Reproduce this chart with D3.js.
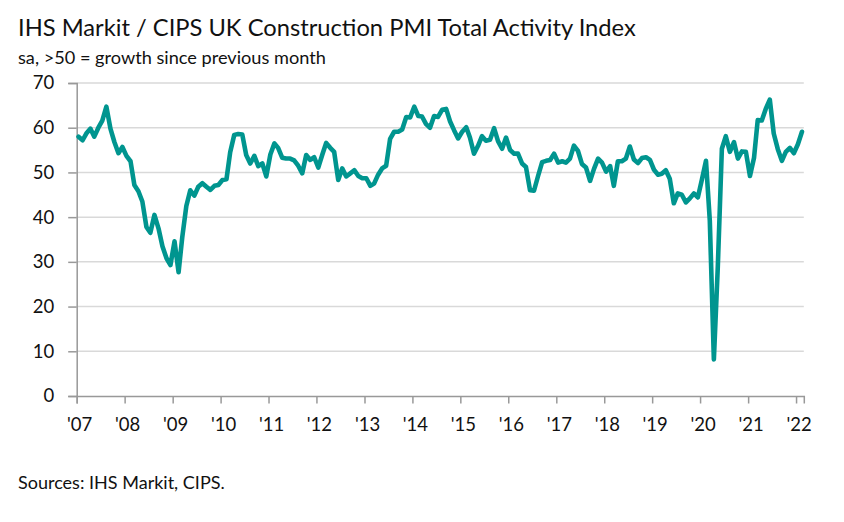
<!DOCTYPE html>
<html>
<head>
<meta charset="utf-8">
<script src="https://cdn.jsdelivr.net/npm/d3@7"></script>
<style>
  html, body { margin: 0; padding: 0; background: #fff; }
  svg { display: block; }
</style>
</head>
<body>
<svg id="chart" width="844" height="522"></svg>
<script>
// ---------- data ----------
const titleText = "IHS Markit / CIPS UK Construction PMI Total Activity Index";
const subtitleText = "sa, >50 = growth since previous month";
const sourceText = "Sources: IHS Markit, CIPS.";

const startYear = 2007;           // first observation: Jan 2007 (monthly)
const pmiValues = [
  // 2007
  58.0, 57.2, 58.7, 59.8, 58.0, 60.0, 61.6, 64.7, 59.8, 56.8, 54.3, 55.7,
  // 2008
  53.7, 52.5, 47.2, 45.8, 43.5, 37.8, 36.5, 40.5, 37.5, 33.5, 30.8, 29.3,
  // 2009
  34.6, 27.7, 35.5, 42.5, 46.0, 44.8, 46.8, 47.6, 46.8, 46.1, 47.0, 47.2,
  // 2010
  48.3, 48.5, 54.5, 58.4, 58.6, 58.5, 53.9, 52.0, 53.7, 51.4, 52.0, 49.1,
  // 2011
  54.0, 56.5, 55.5, 53.3, 53.1, 53.1, 52.7, 51.5, 49.8, 53.9, 52.8, 53.4,
  // 2012
  51.1, 54.0, 56.6, 55.5, 54.6, 48.3, 50.9, 49.1, 49.8, 50.5, 49.2, 48.7,
  // 2013
  48.7, 47.0, 47.5, 49.5, 50.9, 51.5, 57.5, 59.1, 59.1, 59.6, 62.4, 62.3,
  // 2014
  64.7, 62.6, 62.5, 60.8, 60.0, 62.6, 62.4, 64.0, 64.2, 61.4, 59.4, 57.6,
  // 2015
  59.1, 60.1, 57.8, 54.2, 55.9, 58.1, 57.1, 57.3, 59.9, 57.0, 55.3, 57.8,
  // 2016
  55.0, 54.2, 54.2, 52.0, 51.2, 46.0, 45.9, 49.2, 52.3, 52.6, 52.8, 54.2,
  // 2017
  52.2, 52.5, 52.2, 53.1, 56.0, 54.8, 51.9, 51.1, 48.1, 50.8, 53.1, 52.2,
  // 2018
  50.2, 51.4, 47.0, 52.5, 52.5, 53.1, 55.8, 52.9, 52.1, 53.2, 53.4, 52.8,
  // 2019
  50.6, 49.5, 49.7, 50.5, 48.6, 43.1, 45.3, 45.0, 43.3, 44.2, 45.3, 44.4,
  // 2020
  48.4, 52.6, 39.3, 8.2, 28.9, 55.3, 58.1, 54.6, 56.8, 53.1, 54.7, 54.6,
  // 2021
  49.2, 53.3, 61.7, 61.6, 64.2, 66.3, 58.7, 55.2, 52.6, 54.6, 55.5, 54.3,
  // 2022
  56.3, 59.1
];

const xTickYears  = [2007, 2008, 2009, 2010, 2011, 2012, 2013, 2014, 2015, 2016, 2017, 2018, 2019, 2020, 2021, 2022];
const xTickLabels = ["'07", "'08", "'09", "'10", "'11", "'12", "'13", "'14", "'15", "'16", "'17", "'18", "'19", "'20", "'21", "'22"];
const yTicks = [0, 10, 20, 30, 40, 50, 60, 70];

// ---------- layout ----------
const FONT = "Lato, 'Open Sans', sans-serif";
const plot = { left: 76.7, right: 803.8, top: 83, bottom: 396 };
const lineColor = "#00958f";
const gridColor = "#d9d9d9";
const axisColor = "#999999";

const svg = d3.select("#chart");

const data = pmiValues.map((v, i) => ({ date: new Date(startYear, i, 15), value: v }));

const x = d3.scaleTime()
  .domain([new Date(startYear, 0, 1), new Date(2022, 2, 1)])
  .range([plot.left, plot.right]);

const y = d3.scaleLinear()
  .domain([0, 70])
  .range([plot.bottom, plot.top]);

// gridlines
svg.append("g")
  .selectAll("line")
  .data(yTicks.filter(t => t > 0))
  .join("line")
  .attr("x1", plot.left).attr("x2", plot.right)
  .attr("y1", d => y(d)).attr("y2", d => y(d))
  .attr("stroke", gridColor).attr("stroke-width", 1.5);

// y axis
const yAxis = svg.append("g")
  .attr("transform", `translate(${plot.left},0)`)
  .call(d3.axisLeft(y).tickValues(yTicks).tickSize(8.5).tickPadding(14).tickFormat(d3.format("d")));
yAxis.select(".domain").attr("stroke", axisColor).attr("stroke-width", 1.5);
yAxis.selectAll(".tick line").attr("stroke", axisColor).attr("stroke-width", 1.5);
yAxis.selectAll(".tick text")
  .attr("font-family", FONT).attr("font-size", 18.5).attr("fill", "#111");

// x axis
const xAxis = svg.append("g")
  .attr("transform", `translate(0,${plot.bottom})`)
  .call(d3.axisBottom(x)
    .tickValues(xTickYears.map(yr => new Date(yr, 0, 1)))
    .tickSize(7.5).tickPadding(14)
    .tickFormat((d, i) => xTickLabels[i]));
xAxis.select(".domain").attr("stroke", axisColor).attr("stroke-width", 1.5);
xAxis.selectAll(".tick line").attr("stroke", axisColor).attr("stroke-width", 1.5);
xAxis.selectAll(".tick text")
  .attr("font-family", FONT).attr("font-size", 18.5).attr("fill", "#111")
  .attr("dx", 2.5);

// line
const line = d3.line()
  .x(d => x(d.date))
  .y(d => y(d.value));

svg.append("path")
  .datum(data)
  .attr("d", line)
  .attr("fill", "none")
  .attr("stroke", lineColor)
  .attr("stroke-width", 4.6)
  .attr("stroke-linejoin", "round")
  .attr("stroke-linecap", "round");

// texts, fitted to reference widths
function fitText(txt, xPos, yBase, targetWidth, baseSize, color) {
  const t = svg.append("text")
    .attr("x", xPos).attr("y", yBase)
    .attr("font-family", FONT)
    .attr("font-size", baseSize)
    .attr("fill", color)
    .text(txt);
  const w = t.node().getComputedTextLength();
  if (w > 0) t.attr("font-size", baseSize * targetWidth / w);
  return t;
}
fitText(titleText, 18, 35.5, 618, 24, "#111");
fitText(subtitleText, 18, 64, 308, 17, "#111");
fitText(sourceText, 18, 489, 207, 17, "#111");
</script>
</body>
</html>
